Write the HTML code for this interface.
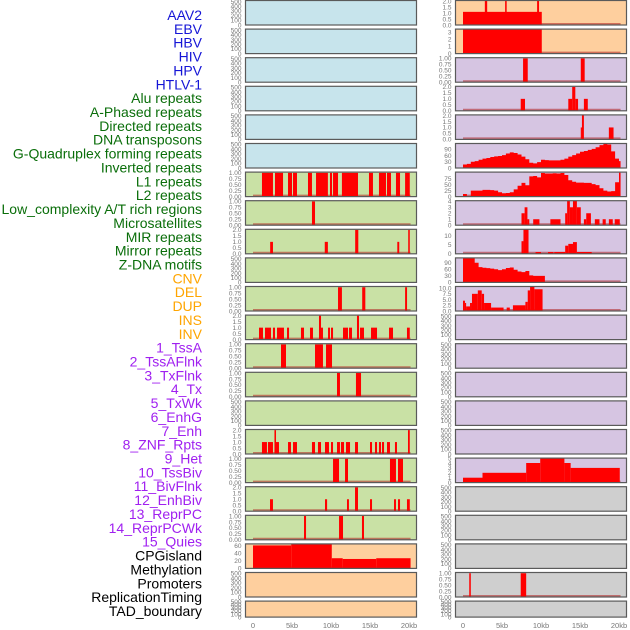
<!DOCTYPE html>
<html><head><meta charset="utf-8"><style>
html,body{margin:0;padding:0;background:#fff;width:630px;height:630px;overflow:hidden}
svg{display:block}
</style></head><body>
<svg id="chart" width="630" height="630" viewBox="0 0 630 630" xmlns="http://www.w3.org/2000/svg" font-family="Liberation Sans, sans-serif"></svg>
<script>
// ---- labels ----
const trackLabels=["AAV2","EBV","HBV","HIV","HPV","HTLV-1","Alu repeats","A-Phased repeats","Directed repeats","DNA transposons","G-Quadruplex forming repeats","Inverted repeats","L1 repeats","L2 repeats","Low_complexity A/T rich regions","Microsatellites","MIR repeats","Mirror repeats","Z-DNA motifs","CNV","DEL","DUP","INS","INV","1_TssA","2_TssAFlnk","3_TxFlnk","4_Tx","5_TxWk","6_EnhG","7_Enh","8_ZNF_Rpts","9_Het","10_TssBiv","11_BivFlnk","12_EnhBiv","13_ReprPC","14_ReprPCWk","15_Quies","CPGisland","Methylation","Promoters","ReplicationTiming","TAD_boundary"];
const labelGroups=["v","v","v","v","v","v","r","r","r","r","r","r","r","r","r","r","r","r","r","s","s","s","s","s","c","c","c","c","c","c","c","c","c","c","c","c","c","c","c","o","o","o","o","o"];
const xTickLabels=["0","5kb","10kb","15kb","20kb"];
const xTickValues=[0,5,10,15,20];

// ---- data: segments [startKb,endKb,value] ----
const L7=[[1.15,2.56,1],[2.82,3.85,1],[4.49,5.0,1],[5.13,5.64,1],[7.05,7.56,1],[8.08,9.6,1],[9.87,10.13,1],[10.26,10.9,1],[11.4,13.46,1],[14.87,15.38,1],[16.15,17.05,1],[17.18,17.69,1],[18.33,18.85,1],[19.5,20.1,1]];
const L8=[[7.56,7.95,1]];
const L9=[[2.2,2.56,1],[9.2,9.6,1],[13.1,13.5,2],[18.5,18.75,1],[19.9,20.1,2]];
const L11=[[10.9,11.4,1],[14.0,14.4,1],[19.5,19.75,1]];
const L12=[[0.77,1.28,1],[1.54,2.31,1],[2.56,2.82,1],[3.08,3.97,1],[4.36,4.62,1],[6.15,6.54,1],[7.31,7.69,1],[8.46,8.72,2],[8.72,8.97,1],[9.62,9.87,1],[10.0,10.26,1],[11.54,12.18,1],[12.31,12.69,1],[13.33,13.59,2],[13.72,14.23,1],[15.13,15.9,1],[17.44,17.95,1],[19.74,20.1,1]];
const L13=[[3.59,4.23,1],[7.95,8.97,1],[9.36,10.13,1]];
const L14=[[10.77,11.15,1],[13.2,13.85,1]];
const L16=[[1.15,1.79,1],[1.92,2.56,1],[2.75,2.95,2],[2.95,3.33,1],[4.49,4.87,1],[5.13,5.64,1],[7.56,7.95,1],[8.33,8.72,1],[9.23,9.74,1],[10.0,10.26,1],[10.77,11.15,1],[11.28,11.67,1],[11.92,12.44,1],[13.08,13.46,1],[15.0,15.26,1],[15.64,15.9,1],[16.15,16.41,1],[16.54,16.8,1],[17.18,17.56,1],[18.2,18.46,1],[19.87,20.1,2]];
const L17=[[10.26,11.03,1],[11.8,12.18,1],[17.56,18.33,1],[18.59,19.23,1]];
const L18=[[2.18,2.56,1],[9.23,9.5,1],[12.05,12.3,1],[13.08,13.46,2],[15.0,15.26,1],[18.08,18.33,1],[18.59,18.85,1],[19.74,20.1,1]];
const L19=[[6.54,6.8,1],[11.03,11.54,1],[13.97,14.23,1]];
const L20=[[0,4.9,61],[4.9,10.1,64],[10.1,11.5,27],[11.5,15.8,25],[15.8,20.2,27]];
const R1=[[0,10.1,1.1],[2.8,3.1,2.1],[5.4,5.6,2.1],[9.5,9.75,2.1]];
const R2=[[0,10.1,3.4]];
const R3=[[7.7,8.3,1],[15.1,15.6,1]];
const R4=[[7.4,7.95,1],[13.5,14.0,1],[14.0,14.4,2],[14.4,14.75,1],[15.5,16.0,1]];
const R5=[[15.1,15.25,1],[15.25,15.5,2.1],[18.7,19.3,1]];
const R8=[[7.5,7.9,2],[7.9,8.26,3],[8.26,8.5,1],[9.0,9.8,1],[11.2,12.5,1],[13.1,13.35,2],[13.35,13.7,4.1],[13.7,14.1,3],[14.1,14.6,4.1],[14.6,15.1,3],[15.5,15.8,1],[15.8,16.4,2],[16.9,17.5,1],[17.9,18.3,1],[18.7,19.2,1],[19.45,20.1,1]];
const R9=[[7.5,7.75,7],[7.75,8.4,13.5],[9.3,10.0,1],[10.9,11.6,1],[11.7,13.1,1],[13.1,13.5,4.5],[13.5,14.1,5.5],[14.1,14.6,6.5],[14.6,16.5,1]];
const R11=[[0,0.25,4.5],[0.25,0.4,3.5],[0.4,0.9,2],[0.9,1.15,3.5],[1.15,1.9,7.5],[1.9,2.4,9],[2.4,2.7,7.5],[2.7,3.6,3.5],[3.6,5.2,1.5],[5.6,6.0,1.5],[6.4,8.0,2.5],[8.0,8.3,4],[8.3,8.6,9],[8.6,9.15,10.6],[9.15,10.2,9.5]];
const R17=[[0,2.5,1],[2.5,8.1,2],[8.1,9.9,4],[9.9,13.0,5],[13.0,13.8,4],[13.8,20.1,3]];
const R21=[[0.8,1.0,1],[7.4,8.1,1]];
// ---- data: binned profiles (0.5kb bins) ----
const R6=[17,20,30,33,40,45,48,53,56,58,62,70,75,72,65,55,42,25,22,28,40,38,37,37,37,40,45,55,62,70,78,82,87,92,100,110,117,113,80,45,33];
const R7=[11,0,25,25,25,28,28,27,25,18,14,15,18,30,45,57,47,84,86,80,98,96,96,97,96,98,90,68,62,58,58,57,57,52,48,35,25,21,23,60,100];
const R10=[112,112,112,90,70,67,65,63,60,56,60,66,68,58,50,47,52,32,30,30,30];

// ---- tick sets ----
const tE=[0,100,200,300,400,500], tEL=["0","100","200","300","400","500"];
const t1=[0,0.25,0.5,0.75,1], t1L=["0.00","0.25","0.50","0.75","1.00"];
const t2=[0,0.5,1,1.5,2], t2L=["0.0","0.5","1.0","1.5","2.0"];

const BL="#c7e4ec",GR="#c9e1a5",OR="#fecf9e",PU="#d6c5e2",GY="#cfcfcf";
const E={t:tE,tl:tEL,ymax:520};
const leftPanels=[
 {bg:BL,...E},{bg:BL,...E},{bg:BL,...E},{bg:BL,...E},{bg:BL,...E},{bg:BL,...E},
 {bg:GR,t:t1,tl:t1L,ymax:1.03,segs:L7},
 {bg:GR,t:t1,tl:t1L,ymax:1.03,segs:L8},
 {bg:GR,t:t2,tl:t2L,ymax:2.05,segs:L9},
 {bg:GR,...E},
 {bg:GR,t:t1,tl:t1L,ymax:1.03,segs:L11},
 {bg:GR,t:t2,tl:t2L,ymax:2.05,segs:L12},
 {bg:GR,t:t1,tl:t1L,ymax:1.03,segs:L13},
 {bg:GR,t:t1,tl:t1L,ymax:1.03,segs:L14},
 {bg:GR,...E},
 {bg:GR,t:t2,tl:t2L,ymax:2.05,segs:L16},
 {bg:GR,t:t1,tl:t1L,ymax:1.03,segs:L17},
 {bg:GR,t:t2,tl:t2L,ymax:2.05,segs:L18},
 {bg:GR,t:t1,tl:t1L,ymax:1.03,segs:L19},
 {bg:OR,t:[0,20,40,60],tl:["0","20","40","60"],ymax:65,segs:L20},
 {bg:OR,...E},{bg:OR,...E}
];
const rightPanels=[
 {bg:OR,t:t2,tl:t2L,ymax:2.05,segs:R1},
 {bg:OR,t:[0,1,2,3],tl:["0","1","2","3"],ymax:3.4,segs:R2},
 {bg:PU,t:t1,tl:t1L,ymax:1.03,segs:R3},
 {bg:PU,t:t2,tl:t2L,ymax:2.05,segs:R4},
 {bg:PU,t:t2,tl:t2L,ymax:2.05,segs:R5},
 {bg:PU,t:[0,30,60,90],tl:["0","30","60","90"],ymax:118,bins:R6},
 {bg:PU,t:[0,25,50,75],tl:["0","25","50","75"],ymax:102,bins:R7},
 {bg:PU,t:[0,1,2,3,4],tl:["0","1","2","3","4"],ymax:4.1,segs:R8},
 {bg:PU,t:[0,5,10],tl:["0","5","10"],ymax:13.6,segs:R9},
 {bg:PU,t:[0,30,60,90],tl:["0","30","60","90"],ymax:112,bins:R10},
 {bg:PU,t:[0,2.5,5,7.5,10],tl:["0.0","2.5","5.0","7.5","10.0"],ymax:10.7,segs:R11},
 {bg:PU,...E},{bg:PU,...E},{bg:PU,...E},{bg:PU,...E},{bg:PU,...E},
 {bg:PU,t:[0,1,2,3,4,5],tl:["0","1","2","3","4","5"],ymax:5,segs:R17},
 {bg:GY,...E},{bg:GY,...E},{bg:GY,...E},
 {bg:GY,t:t1,tl:t1L,ymax:1.03,segs:R21},
 {bg:GY,...E}
];

const svg=document.getElementById('chart');
const NS="http://www.w3.org/2000/svg";
function mk(tag,attrs,parent){const e=document.createElementNS(NS,tag);for(const k in attrs)e.setAttribute(k,attrs[k]);(parent||svg).appendChild(e);return e;}

// labels
const colors={v:"#1515d6",r:"#0a6e0a",s:"#ffa500",c:"#a020f0",o:"#000000"};
trackLabels.forEach((t,i)=>{
  const el=mk('text',{x:202,y:15+i*13.86+5,'text-anchor':'end','font-size':14,fill:colors[labelGroups[i]]});
  el.textContent=t;
  
  
});

function drawPanel(p,col,row){
  const x0=col===0?245.5:455.5, w=171, top=0.5+28.6*row, h=row===21?16:24.5;
  const kb0=col===0?253:463, pxkb=7.8;
  const xs=kb=>kb0+kb*pxkb;
  const ys=v=>top+h-Math.min(v,p.ymax)/p.ymax*h;
  const g=mk('g',{});
  
  
  mk('rect',{x:x0,y:top,width:w,height:h,fill:p.bg},g);
  const hasData=p.segs||p.bins;
  if(hasData) mk('line',{x1:xs(0),x2:xs(20.2),y1:top+h-1,y2:top+h-1,stroke:'#b02020','stroke-opacity':0.55,'stroke-width':2},g);
  if(p.segs){p.segs.forEach(s=>{
    const b=mk('rect',{x:xs(s[0]),y:ys(s[2]),width:Math.max(xs(s[1])-xs(s[0]),1),height:top+h-ys(s[2]),fill:'#ff0000'},g);
    
    
  });}
  if(p.bins){
    let d='M'+xs(0)+','+(top+h);
    p.bins.forEach((v,i)=>{const a=xs(i*0.5),b2=xs(Math.min((i+1)*0.5,20.2));d+='L'+a+','+ys(v)+'L'+b2+','+ys(v);});
    d+='L'+xs(Math.min(p.bins.length*0.5,20.2))+','+(top+h)+'Z';
    const a=mk('path',{d:d,fill:'#ff0000'},g);
    
    
  }
  mk('rect',{x:x0,y:top,width:w,height:h,fill:'none',stroke:'#5a5a5a','stroke-width':1.2},g);
  p.t.forEach((v,i)=>{
    const t=mk('text',{x:x0-4,y:ys(v)+2.3,'text-anchor':'end','font-size':6.5,fill:'#777'},g);
    t.textContent=p.tl[i];
    
    
  });
}
leftPanels.forEach((p,i)=>drawPanel(p,0,i));
rightPanels.forEach((p,i)=>drawPanel(p,1,i));

// x axes
[253,463].forEach((kb0,c)=>{
  xTickValues.forEach((v,i)=>{
    const t=mk('text',{x:kb0+v*7.8,y:628,'text-anchor':'middle','font-size':7.5,fill:'#777'});
    t.textContent=xTickLabels[i];
    
    
  });
});
</script>
</body></html>
